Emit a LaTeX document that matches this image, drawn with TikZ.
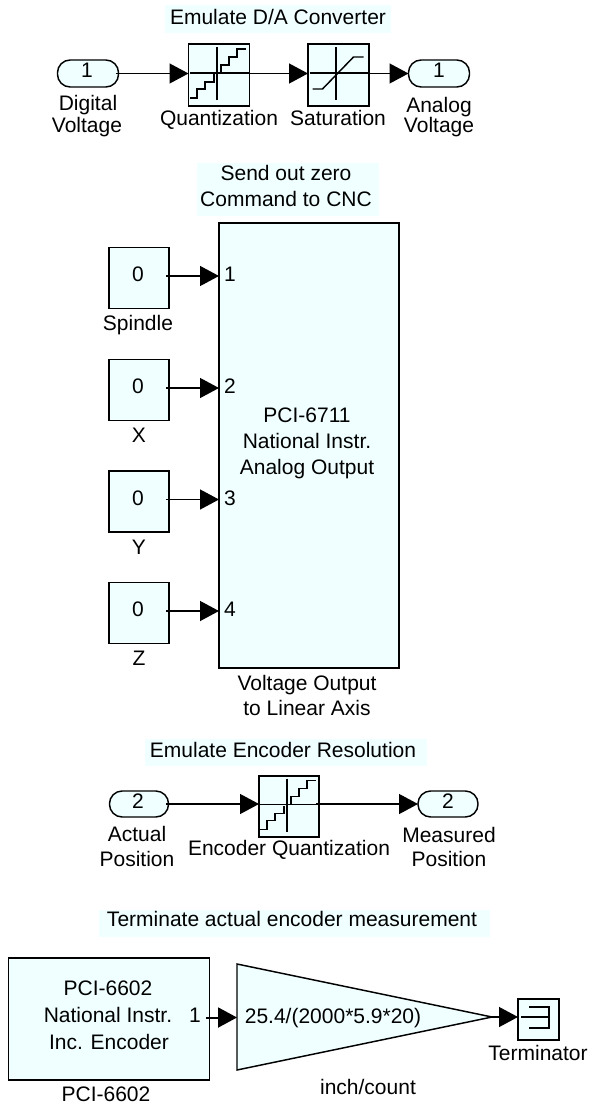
\documentclass[tikz,border=0pt]{standalone}
\usepackage{fontspec}
\setmainfont{Liberation Sans}
\usetikzlibrary{arrows.meta,shapes.geometric}
\definecolor{blk}{HTML}{F0FFFF}
\tikzset{
  x=0.75pt,y=-0.75pt,
  wh/.style 2 args={minimum width=#1*0.75pt,minimum height=#2*0.75pt},
  block/.style={draw=black,line width=1.3pt,fill=blk,inner sep=0pt,align=center,outer sep=0pt},
  port/.style={block,line width=1.1pt,rounded corners=9.5pt},
  titlebg/.style={fill=blk,inner sep=0pt},
  lab/.style={inner sep=0pt,text height=11.3pt,text depth=0pt},
  sig/.style={line width=1pt,-{Triangle[length=14.25pt,width=15pt]},shorten <=-2pt},
  icon/.style={line width=1.1pt},
}
\newcommand{\quanticon}{%
  \draw[icon] (-29,-2) -- (30,-2);
  \draw[icon] (-2,-28) -- (-2,25);
  \draw[icon] (-29,23) -- (-22,23) -- (-22,14) -- (-14,14) -- (-14,7) -- (-5,7) -- (-5,-1);
  \draw[icon] (2,-3) -- (2,-10) -- (10,-10) -- (10,-18) -- (18,-18) -- (18,-26) -- (27,-26);
}
\begin{document}
\begin{tikzpicture}[font=\fontsize{15.75pt}{19pt}\selectfont]
\useasboundingbox (0,0) rectangle (593,1105);
% --- D/A
\node[titlebg,wh={226}{28}] (t1) at (278,19) {};
\node[lab] (t1t) at (278,17) {Emulate D/A Converter};
\node[port,wh={61}{27}] (in1) at (88,73.5) {};
\node[lab] (in1n) at (87,70) {1};
\node[block,wh={61}{62}] (q1) at (219,75) {};
\begin{scope}[shift={(q1.center)}]\quanticon\end{scope}
\node[block,wh={61}{62}] (s1) at (338.5,75) {};
\begin{scope}[shift={(s1.center)}]
  \draw[icon] (-29,-2) -- (30,-2);
  \draw[icon] (-2.5,-28) -- (-2.5,25);
  \draw[icon] (-26,14) -- (-16,14) -- (15,-18) -- (25,-18);
\end{scope}
\node[port,wh={61}{27}] (out1) at (439,73.5) {};
\node[lab] (out1n) at (439,70) {1};
\draw[sig] (in1.east) -- (q1.west |- in1.east);
\draw[sig] (q1.east |- in1.east) -- (s1.west |- in1.east);
\draw[sig] (s1.east |- in1.east) -- (out1.west);
\node[lab] (l1) at (88,103) {Digital};
\node[lab] (l2) at (87,125) {Voltage};
\node[lab] (l3) at (219,118) {Quantization};
\node[lab] (l4) at (338,118) {Saturation};
\node[lab] (l5) at (439,105) {Analog};
\node[lab] (l6) at (439,125) {Voltage};
% --- PCI-6711
\node[titlebg,wh={182}{53}] (t2) at (288,189.5) {};
\node[lab] (t2a) at (286,173) {Send out zero};
\node[lab] (t2b) at (286,199) {Command to CNC};
\node[block,wh={180}{445}] (big) at (309,445.5) {};
\node[lab] (bt1) at (307,415) {PCI-6711};
\node[lab] (bt2) at (307,441) {National Instr.};
\node[lab] (bt3) at (307,467) {Analog Output};
\foreach \n/\c in {1/278,2/390,3/501.5,4/613}{
  \node[block,wh={60}{61}] (c\n) at (139,\c) {};
  \node[lab] (c\n n) at (138,\c-4) {0};
  \coordinate (a\n) at (169,\c-2);
  \draw[sig] (a\n) -- (big.west |- a\n);
  \node[lab] (p\n) at (230,\c-4) {\n};
}
\node[lab] (cl1) at (138,323) {Spindle};
\node[lab] (cl2) at (139,435) {X};
\node[lab] (cl3) at (139,547) {Y};
\node[lab] (cl4) at (139,658) {Z};
\node[lab] (bl1) at (307,683) {Voltage Output};
\node[lab] (bl2) at (307,708) {to Linear Axis};
% --- Encoder resolution
\node[titlebg,wh={282}{27}] (t3) at (286,752.5) {};
\node[lab] (t3t) at (283,750) {Emulate Encoder Resolution};
\node[port,wh={59}{26}] (in2) at (139,804) {};
\node[lab] (in2n) at (138,801) {2};
\node[block,wh={60}{61}] (q2) at (289,806.5) {};
\begin{scope}[shift={(q2.center)}]\quanticon\end{scope}
\node[port,wh={60}{26}] (out2) at (448,804) {};
\node[lab] (out2n) at (448,801) {2};
\draw[sig] (in2.east) -- (q2.west |- in2.east);
\draw[sig] (q2.east |- in2.east) -- (out2.west);
\node[lab] (l7) at (137,834) {Actual};
\node[lab] (l8) at (137,859) {Position};
\node[lab] (l9) at (289,848) {Encoder Quantization};
\node[lab] (l10) at (449,835) {Measured};
\node[lab] (l11) at (449,859) {Position};
% --- Terminate
\node[titlebg,wh={391}{27}] (t4) at (294.5,923.5) {};
\node[lab] (t4t) at (292,919) {Terminate actual encoder measurement};
\node[block,wh={201}{122}] (enc) at (109,1019) {};
\node[lab] (et1) at (108,988) {PCI-6602};
\node[lab] (et2) at (108,1015) {National Instr.};
\node[lab] (et3) at (109,1042) {Inc. Encoder};
\node[lab] (ep) at (195,1015) {1};
\coordinate (g1) at (237,964);
\coordinate (g2) at (237,1070);
\coordinate (g3) at (492,1017);
\coordinate (g4) at (237,1017.5);
\coordinate (e1) at (209,1017.5);
\draw[block,line width=1.1pt] (g1) -- (g3) -- (g2) -- cycle;
\node[lab] (gt) at (333,1016) {25.4/(2000*5.9*20)};
\node[block,line width=1.1pt,wh={41}{41}] (term) at (538.5,1019.5) {};
\begin{scope}[shift={(term.center)}]
  \draw[icon] (-9.5,-12.5) -- (10.5,-12.5) -- (10.5,8.5) -- (-9.5,8.5);
  \draw[icon] (-17.5,-2.5) -- (10.5,-2.5);
\end{scope}
\draw[sig,line width=1.5pt] (e1) -- (g4);
\draw[sig] (g3) -- (term.west |- g3);
\node[lab] (l12) at (106,1094) {PCI-6602};
\node[lab] (l13) at (368,1087) {inch/count};
\node[lab] (l14) at (538,1053) {Terminator};
\end{tikzpicture}
\end{document}
